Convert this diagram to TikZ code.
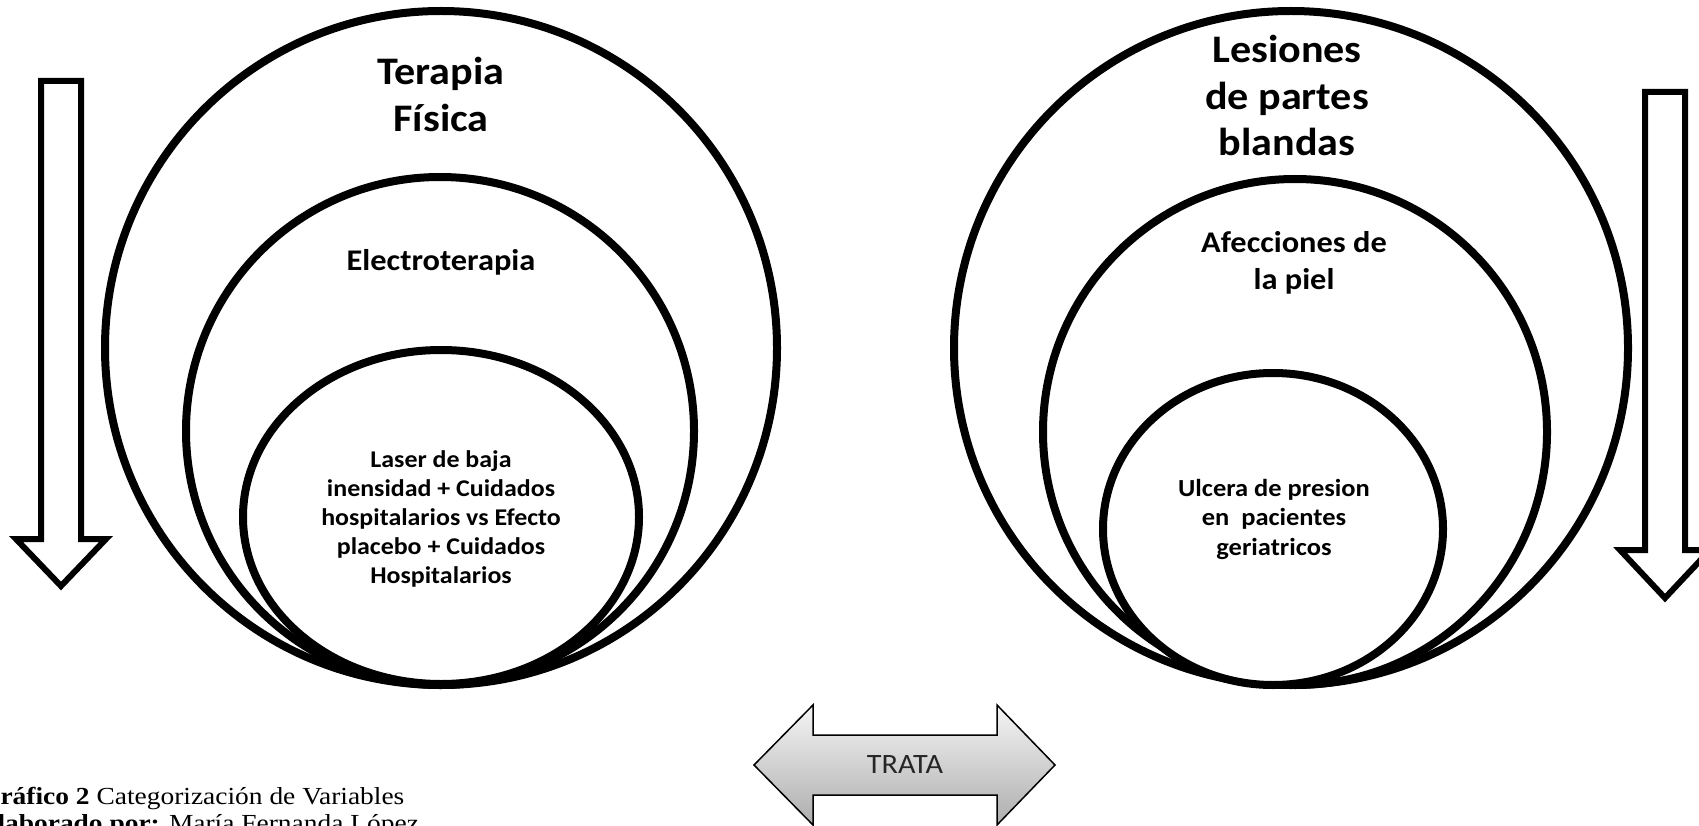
\documentclass[tikz,border=0pt]{standalone}
\usepackage{fontspec}
\setmainfont{Carlito}[FakeStretch=1.08]
\newfontfamily\captionfont{Liberation Serif}[FakeStretch=1.12]

\tikzset{
  ring/.style={line width=8pt, fill=white},
  blockarrow/.style={line width=6pt, fill=white, line join=miter},
  bigtitle/.style={font=\bfseries\fontsize{39}{47}\selectfont, align=center, anchor=base, inner sep=0pt},
  midtitle/.style={font=\bfseries\fontsize{30}{36}\selectfont, align=center, anchor=base, inner sep=0pt},
  smalltitle/.style={font=\bfseries\fontsize{24}{29}\selectfont, align=center, anchor=base, inner sep=0pt},
}

\begin{document}
\begin{tikzpicture}[x=1pt, y=-1pt]
  \useasboundingbox (0,0) rectangle (1699,826);
  \clip (0,0) rectangle (1699,826);

  % nested sets, outer first
  \foreach \cx/\cy/\rx/\ry in {441/348/336/337, 440/431/254/254, 441/517/198/167,
                               1291/348/337/337, 1295/432/252/253, 1273/529/170/156}
    \draw[ring] (\cx,\cy) ellipse [x radius=\rx, y radius=\ry];

  % base of a node = baseline of its last line
  \node[bigtitle] (terapia) at (441,132) {Terapia\\Física};
  \node[midtitle] (electro) at (441,270) {Electroterapia};
  \node[smalltitle] (laser) at (441,583) {Laser de baja\\inensidad + Cuidados\\hospitalarios vs Efecto\\placebo + Cuidados\\Hospitalarios};

  \node[bigtitle, font=\bfseries\fontsize{39}{46.5}\selectfont] (lesiones) at (1287,156) {Lesiones\\de partes\\blandas};
  \node[midtitle] (afecciones) at (1294,289) {Afecciones de\\la piel};
  \node[smalltitle, font=\bfseries\fontsize{24.5}{29.5}\selectfont] (ulcera) at (1274,555) {Ulcera de presion\\en\ \ pacientes\\geriatricos};

  % down arrows at both sides
  \foreach \ax/\ay/\hb/\tp in {61/81/539/586, 1665/92/550/598}
    \draw[blockarrow] (\ax-20,\ay) -- (\ax+20,\ay) -- (\ax+20,\hb) -- (\ax+45,\hb)
      -- (\ax,\tp) -- (\ax-45,\hb) -- (\ax-20,\hb) -- cycle;

  % two-way arrow
  \draw[line width=1.5pt, line join=miter, top color=white!96!black, bottom color=black!32]
    (754,765) -- (813,705) -- (813,735) -- (997,735) -- (997,705) -- (1055,765)
    -- (997,825) -- (997,795) -- (813,795) -- (813,825) -- cycle;
  \node[font=\fontsize{28}{34}\selectfont, text=black!85] (trata) at (905,765) {TRATA};

  \node[anchor=base west, inner sep=0pt, align=left, font=\captionfont\fontsize{24.5}{27}\selectfont]
    (caption) at (-21,831) {\textbf{Gráfico 2} Categorización de Variables\\\textbf{Elaborado por:} María Fernanda López};
\end{tikzpicture}
\end{document}
